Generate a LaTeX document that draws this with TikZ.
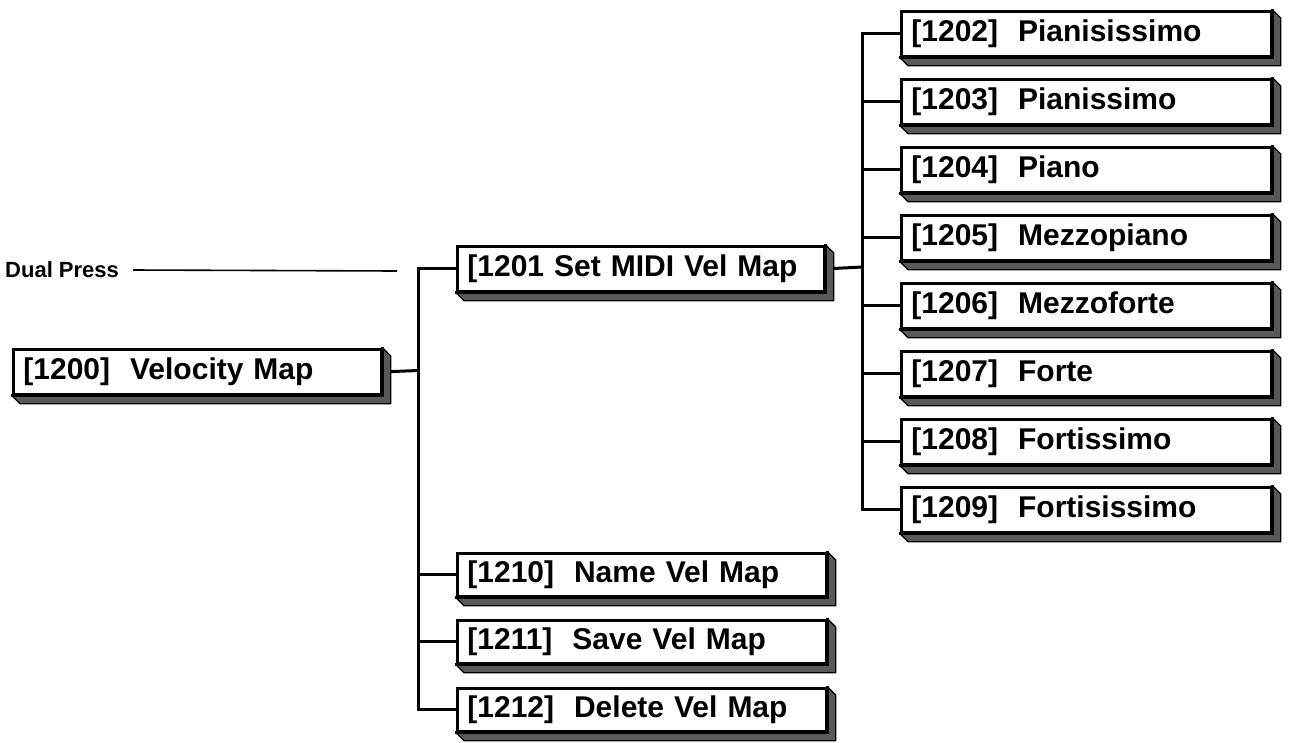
\documentclass[tikz,border=0pt]{standalone}
\usepackage{fontspec}
\setmainfont{Liberation Sans}
\usetikzlibrary{calc}
\pgfdeclarelayer{bg}
\pgfsetlayers{bg,main}
\begin{document}
\begin{tikzpicture}[x=1pt,y=-1pt,
  menubox/.style={draw, line width=2.8pt, fill=white, anchor=north west,
    minimum height=45pt, inner xsep=10pt, inner ysep=0pt, align=left,
    text width=#1, font=\fontsize{30}{34}\selectfont\bfseries},
  wire/.style={line width=3pt, line cap=rect},
  shade/.style={fill=black!65, draw=black, line width=1.2pt, line join=round}
]
\useasboundingbox (0,0) rectangle (1289,742);

% left root
\node[menubox=348pt] (b1200) at (12,348) {[1200]\ \ Velocity Map};
% second level
\node[menubox=347pt] (b1201) at (456,245) {[1201 Set MIDI Vel Map};
\node[menubox=349pt, minimum height=43pt] (b1210) at (456,552) {[1210]\ \ Name Vel Map};
\node[menubox=349pt, minimum height=43pt] (b1211) at (456,619) {[1211]\ \ Save Vel Map};
\node[menubox=349pt, minimum height=43pt] (b1212) at (456,687) {[1212]\ \ Delete Vel Map};
% third level
\node[menubox=350pt] (b1202) at (900,10) {[1202]\ \ Pianisissimo};
\node[menubox=350pt] (b1203) at (900,78) {[1203]\ \ Pianissimo};
\node[menubox=350pt] (b1204) at (900,146) {[1204]\ \ Piano};
\node[menubox=350pt] (b1205) at (900,214) {[1205]\ \ Mezzopiano};
\node[menubox=350pt] (b1206) at (900,282) {[1206]\ \ Mezzoforte};
\node[menubox=350pt] (b1207) at (900,350) {[1207]\ \ Forte};
\node[menubox=350pt] (b1208) at (900,418) {[1208]\ \ Fortissimo};
\node[menubox=350pt] (b1209) at (900,486) {[1209]\ \ Fortisissimo};

% Dual Press label
\node[anchor=west, inner sep=0pt, font=\fontsize{22}{25}\selectfont\bfseries] (dp) at (5,270) {Dual Press};
\coordinate (dpend) at (397,271);

\coordinate (spineL) at (418,370.5);
\coordinate (spineR) at (862,267);

\begin{pgfonlayer}{bg}
\draw[wire] (b1200.east) -- (spineL);
\foreach \c in {b1201,b1210,b1211,b1212}
  \draw[wire] (spineL) |- (\c.west);
\draw[wire] (b1201.east) -- (spineR);
\foreach \c in {b1202,b1203,b1204,b1205,b1206,b1207,b1208,b1209}
  \draw[wire] (spineR) |- (\c.west);
\end{pgfonlayer}
\draw[line width=1.6pt] ([xshift=14pt]dp.east) -- (dpend);

% shadows
\foreach \n in {b1200,b1201,b1210,b1211,b1212,b1202,b1203,b1204,b1205,b1206,b1207,b1208,b1209}{
  \draw[shade] (\n.north east) -- ([shift={(8,8)}]\n.north east)
     -- ([shift={(8,8)}]\n.south east) -- ([shift={(8,8)}]\n.south west)
     -- (\n.south west) -- (\n.south east) -- cycle;
  \draw[line width=2.8pt, line cap=rect] (\n.north east) -- (\n.south east) -- (\n.south west);
}
\end{tikzpicture}
\end{document}
